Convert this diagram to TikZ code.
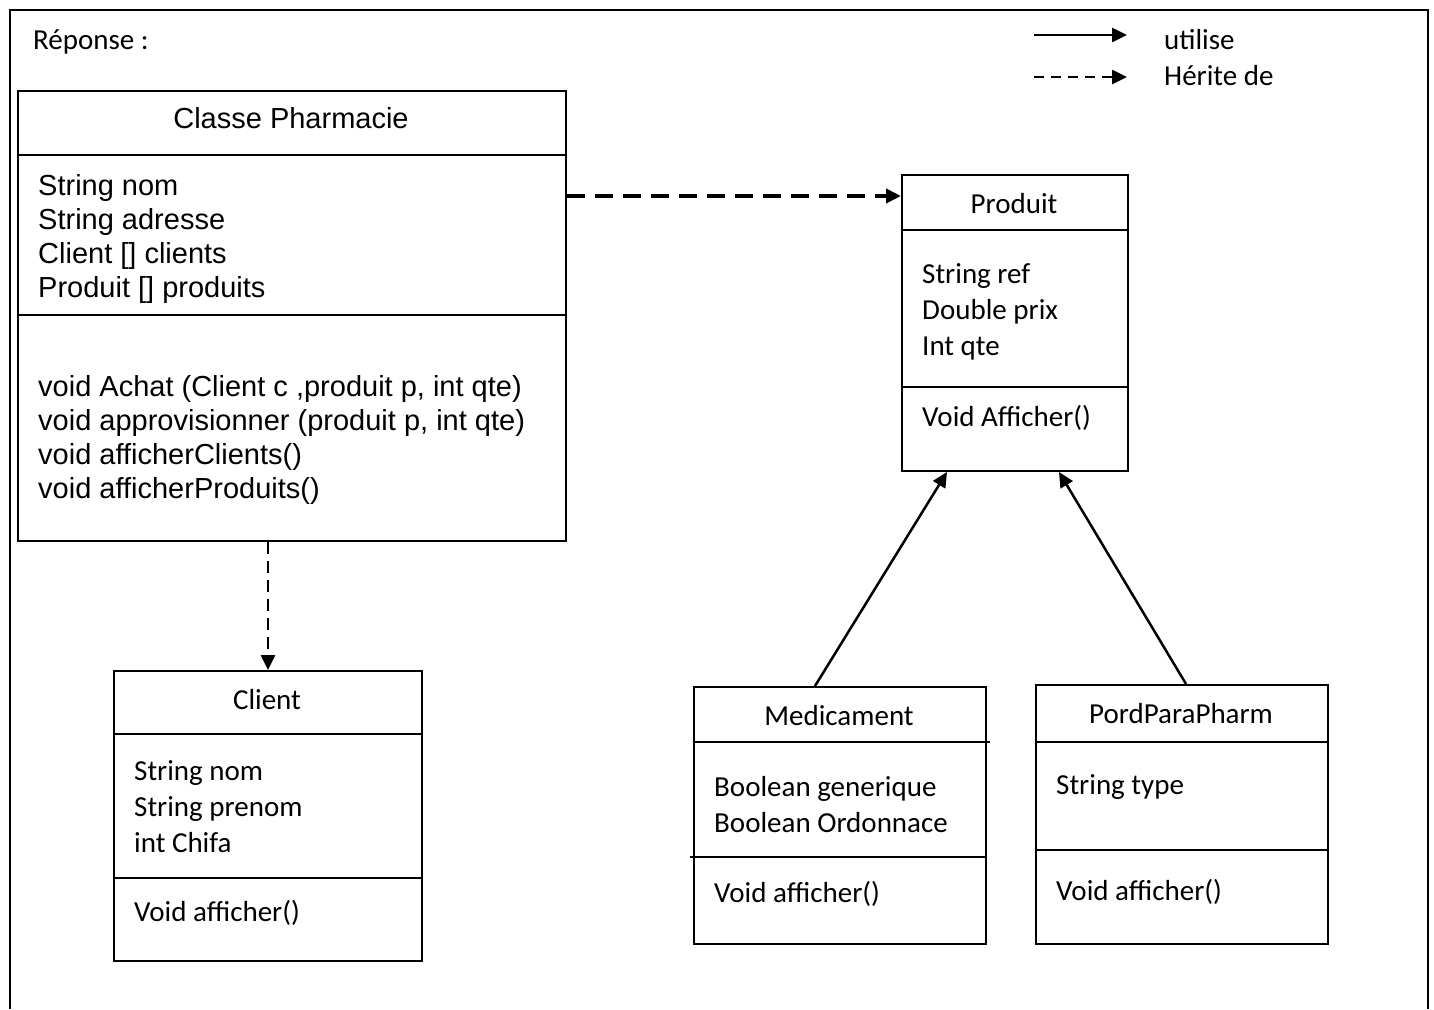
\documentclass[tikz,border=0pt]{standalone}
\usepackage{fontspec}
\setmainfont{Carlito}
\newfontfamily\arialfont{Liberation Sans}
\usetikzlibrary{arrows.meta}

\tikzset{
  classbox/.style={draw, line width=2pt, rectangle, anchor=north west, inner sep=0pt},
  sep/.style={line width=2pt},
  txt/.style={anchor=base west, align=left, inner sep=0pt, font=\fontsize{29}{36}\selectfont},
  atxt/.style={anchor=base west, align=left, inner sep=0pt, font=\arialfont\fontsize{29}{33.7}\selectfont},
  ctitle/.style={inner sep=0pt, font=\fontsize{29}{36}\selectfont},
  utilise/.style={line width=2.5pt, -{Triangle[length=15pt,width=14pt]}},
  herite/.style={line width=2.5pt, dash pattern=on 10pt off 7pt, -{Triangle[length=15pt,width=14pt]}}
}

\begin{document}
\begin{tikzpicture}[x=1pt,y=-1pt]
\useasboundingbox (0,0) rectangle (1434,1009);
% cadre
\draw[line width=2pt] (10,1009) -- (10,10) -- (1428,10) -- (1428,1009);
\node[txt] (rep) at (33,49) {Réponse :};

% legende
\coordinate (lu1) at (1034,35);
\coordinate (lu2) at (1127,35);
\coordinate (lh1) at (1034,77);
\coordinate (lh2) at (1127,77);
\draw[utilise] (lu1) -- (lu2);
\draw[herite] (lh1) -- (lh2);
\node[txt] (lutil) at (1164,49) {utilise};
\node[txt] (lher) at (1164,85) {Hérite de};

% Classe Pharmacie (base = derniere ligne)
\node[classbox, minimum width=548pt, minimum height=450pt] (pharm) at (17,90) {};
\draw[sep] (pharm.west |- 0,155) -- (pharm.east |- 0,155);
\draw[sep] (pharm.west |- 0,315) -- (pharm.east |- 0,315);
\node[ctitle, font=\arialfont\fontsize{29}{33.7}\selectfont] (pharmT) at (291,118) {Classe Pharmacie};
\node[atxt] (pharmA) at (38,297) {String nom\\String adresse\\Client [] clients\\Produit [] produits};
\node[atxt] (pharmM) at (38,498) {void Achat (Client c ,produit p, int qte)\\void approvisionner (produit p, int qte)\\void afficherClients()\\void afficherProduits()};

% Produit
\node[classbox, minimum width=226pt, minimum height=296pt] (prod) at (901,174) {};
\draw[sep] (prod.west |- 0,230) -- (prod.east |- 0,230);
\draw[sep] (prod.west |- 0,387) -- (prod.east |- 0,387);
\node[ctitle] (prodT) at (1014,204) {Produit};
\node[txt] (prodA) at (922,355) {String ref\\Double prix\\Int qte};
\node[txt] (prodM) at (922,426) {Void Afficher()};

% Client
\node[classbox, minimum width=308pt, minimum height=290pt] (client) at (113,670) {};
\draw[sep] (client.west |- 0,734) -- (client.east |- 0,734);
\draw[sep] (client.west |- 0,878) -- (client.east |- 0,878);
\node[ctitle] (clientT) at (267,700) {Client};
\node[txt] (clientA) at (134,852) {String nom\\String prenom\\int Chifa};
\node[txt] (clientM) at (134,921) {Void afficher()};

% Medicament
\node[classbox, minimum width=292pt, minimum height=257pt] (med) at (693,686) {};
\draw[sep] (med.west |- 0,742) -- ([xshift=3pt]med.east |- 0,742);
\draw[sep] ([xshift=-3pt]med.west |- 0,857) -- (med.east |- 0,857);
\node[ctitle] (medT) at (839,716) {Medicament};
\node[txt] (medA) at (714,832) {Boolean generique\\Boolean Ordonnace};
\node[txt] (medM) at (714,902) {Void afficher()};

% PordParaPharm
\node[classbox, minimum width=292pt, minimum height=259pt] (para) at (1035,684) {};
\draw[sep] (para.west |- 0,742) -- (para.east |- 0,742);
\draw[sep] (para.west |- 0,850) -- (para.east |- 0,850);
\node[ctitle] (paraT) at (1181,714) {PordParaPharm};
\node[txt] (paraA) at (1056,794) {String type};
\node[txt] (paraM) at (1056,900) {Void afficher()};

% liens
\draw[herite, line width=4pt, dash pattern=on 18pt off 10pt] (pharm.east |- 0,196) -- (prod.west |- 0,196);
\draw[herite, dash pattern=on 12pt off 7pt] (client.north |- pharm.south) -- (client.north);
\draw[utilise] ([xshift=-25pt]med.north) -- ([xshift=-68pt]prod.south);
\draw[utilise] ([xshift=4pt]para.north) -- ([xshift=44pt]prod.south);
\end{tikzpicture}
\end{document}
